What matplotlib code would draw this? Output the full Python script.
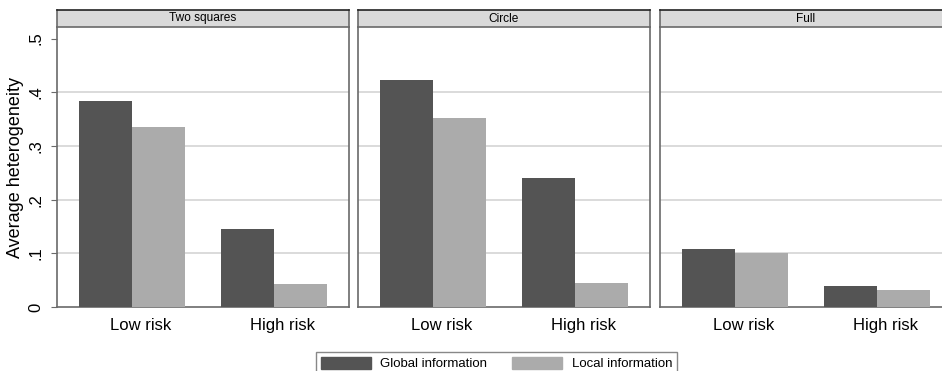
import matplotlib
matplotlib.use("Agg")
import matplotlib.pyplot as plt
from matplotlib.patches import Patch
import numpy as np

plt.rcParams['font.family'] = ['Liberation Sans', 'DejaVu Sans']

# values
panels = ['Two squares', 'Circle', 'Full']
risk_levels = ['Low risk', 'High risk']
global_info = [[0.383, 0.145], [0.422, 0.240], [0.108, 0.040]]
local_info = [[0.335, 0.043], [0.352, 0.045], [0.100, 0.032]]
yticks = [0, 0.1, 0.2, 0.3, 0.4, 0.5]
ytick_labels = ['0', '.1', '.2', '.3', '.4', '.5']

dark = '#545454'
light = '#ababab'
frame = '#6a6a6a'

W, H = 942, 371
fig = plt.figure(figsize=(W / 100, H / 100), dpi=100)

# panel geometry in pixels
lefts = [57, 358, 660]
pw = 292
top_px, bot_px, strip_top = 27, 307, 10

x = np.arange(len(risk_levels))
bw = 0.373

for i, name in enumerate(panels):
    ax = fig.add_axes([lefts[i] / W, 1 - bot_px / H, pw / W, (bot_px - top_px) / H])
    ax.bar(x - bw / 2, global_info[i], bw, color=dark, zorder=3)
    ax.bar(x + bw / 2, local_info[i], bw, color=light, zorder=3)
    ax.set_xlim(-0.528, 1.528)
    ax.set_ylim(0, 0.5215)
    for g in yticks[1:-1]:
        ax.axhline(g, color='#d4d4d4', lw=1.2, zorder=1)
    ax.set_xticks(x + 0.062)
    ax.set_xticklabels(risk_levels, fontsize=12)
    ax.tick_params(axis='x', length=0, pad=8)
    ax.set_yticks(yticks)
    if i == 0:
        ax.set_yticklabels(ytick_labels, fontsize=12, rotation=90, va='center')
        ax.tick_params(axis='y', length=4, color=frame, pad=6)
        ax.set_ylabel('Average heterogeneity', fontsize=13, labelpad=3)
    else:
        ax.tick_params(axis='y', length=0, labelleft=False)
    for s in ax.spines.values():
        s.set_color(frame)
        s.set_linewidth(1.2)
    ax.spines['top'].set_visible(False)

    # header strip
    sax = fig.add_axes([lefts[i] / W, 1 - top_px / H, pw / W, (top_px - strip_top) / H])
    sax.set_facecolor('#dadada')
    sax.set_xticks([])
    sax.set_yticks([])
    for s in sax.spines.values():
        s.set_color(frame)
        s.set_linewidth(1.2)
    sax.spines['top'].set_color('#222222')
    sax.text(0.5, 0.5, name, transform=sax.transAxes, ha='center', va='center', fontsize=8.6)

handles = [Patch(facecolor=dark, edgecolor=dark), Patch(facecolor=light, edgecolor=light)]
leg = fig.legend(handles, ['Global information', 'Local information'], ncol=2,
                 loc='upper center', bbox_to_anchor=(496.5 / W, 1 - 345 / H),
                 fontsize=9.5, frameon=True, fancybox=False, handlelength=3.8,
                 handleheight=1.0, handletextpad=0.7, columnspacing=1.9, borderpad=0.4)
leg.get_frame().set_edgecolor(frame)
leg.get_frame().set_linewidth(1.0)

fig.savefig('out.png', dpi=100)
